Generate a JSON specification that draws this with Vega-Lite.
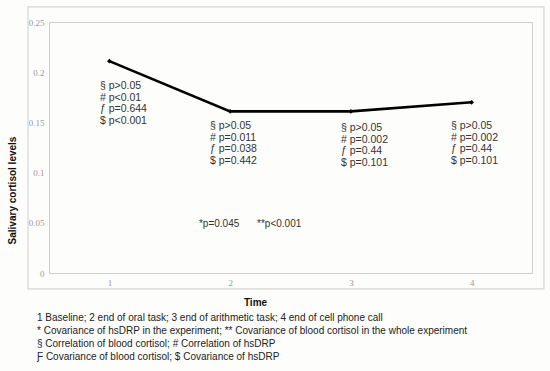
{
  "$schema": "https://vega.github.io/schema/vega-lite/v6.json",
  "autosize": "none",
  "width": 483,
  "height": 251,
  "padding": {"left": 49, "top": 22, "right": 18, "bottom": 98},
  "background": "#fdfdfc",
  "config": {
    "view": {"stroke": "#cfcfcf", "strokeWidth": 1, "fill": "#fdfdfc"},
    "font": "Liberation Sans"
  },
  "title": {
    "text": [
      "1  Baseline; 2 end of oral task; 3 end of arithmetic task; 4 end of cell phone call",
      "*  Covariance of hsDRP in the experiment; ** Covariance of blood cortisol in the whole experiment",
      "§ Correlation of blood cortisol; # Correlation of hsDRP",
      "Ƒ Covariance of blood cortisol; $ Covariance of hsDRP"
    ],
    "orient": "bottom",
    "anchor": "start",
    "frame": "group",
    "dx": -12,
    "offset": 6,
    "font": "Liberation Sans",
    "fontSize": 10,
    "fontWeight": "normal",
    "lineHeight": 13,
    "color": "#222222",
    "baseline": "top"
  },
  "datasets": {
    "series": [
      {"time": 1, "cortisol": 0.211},
      {"time": 2, "cortisol": 0.161},
      {"time": 3, "cortisol": 0.161},
      {"time": 4, "cortisol": 0.17}
    ],
    "notes": [
      {"nx": 0.922, "ny": 0.191, "note": "§ p>0.05\n# p<0.01\nƒ p=0.644\n$ p<0.001"},
      {"nx": 1.833, "ny": 0.151, "note": "§ p>0.05\n# p=0.011\nƒ p=0.038\n$ p=0.442"},
      {"nx": 2.918, "ny": 0.149, "note": "§ p>0.05\n# p=0.002\nƒ p=0.44\n$ p=0.101"},
      {"nx": 3.829, "ny": 0.151, "note": "§ p>0.05\n# p=0.002\nƒ p=0.44\n$ p=0.101"}
    ],
    "stars": [
      {"sx": 1.742, "sy": 0.0488, "star": "*p=0.045"},
      {"sx": 2.223, "sy": 0.0488, "star": "**p<0.001"}
    ],
    "frame": [
      {"fx": 0.326, "fx2": 4.599, "fy": 0.265, "fy2": -0.0159}
    ]
  },
  "layer": [
    {
      "data": {"name": "frame"},
      "mark": {"type": "rect", "fill": null, "stroke": "#d6d6d6", "strokeWidth": 1.2, "clip": false},
      "encoding": {
        "x": {"field": "fx", "type": "quantitative", "scale": {"domain": [0.5, 4.5]}},
        "x2": {"field": "fx2"},
        "y": {"field": "fy", "type": "quantitative", "scale": {"domain": [0, 0.25]}},
        "y2": {"field": "fy2"}
      }
    },
    {
      "data": {"name": "series"},
      "mark": {"type": "line", "color": "#000000", "strokeWidth": 2.6},
      "encoding": {
        "x": {
          "field": "time", "type": "quantitative",
          "scale": {"domain": [0.5, 4.5], "nice": false, "zero": false},
          "axis": {
            "values": [1, 2, 3, 4], "format": "d", "grid": false, "domain": false, "ticks": false,
            "labelFont": "Liberation Serif", "labelFontSize": 9, "labelColor": "#9a9a9a", "labelPadding": 5,
            "title": "Time", "titleFont": "Liberation Sans", "titleFontSize": 10, "titleFontWeight": "bold",
            "titleColor": "#111111", "titleX": 206, "titleY": 29, "titleBaseline": "middle", "titleAlign": "center", "titleAnchor": null
          }
        },
        "y": {
          "field": "cortisol", "type": "quantitative",
          "scale": {"domain": [0, 0.25], "nice": false},
          "axis": {
            "values": [0, 0.05, 0.1, 0.15, 0.2, 0.25], "format": "~g", "grid": false, "domain": false, "ticks": false,
            "labelFont": "Liberation Serif", "labelFontSize": 9, "labelColor": "#9a9a9a", "labelPadding": 5,
            "title": "Salivary cortisol levels", "titleFont": "Liberation Sans", "titleFontSize": 10, "titleFontWeight": "bold",
            "titleColor": "#111111", "titleX": -37, "titleY": 168, "titleAngle": -90, "titleAlign": "center", "titleBaseline": "middle", "titleAnchor": null
          }
        }
      }
    },
    {
      "data": {"name": "series"},
      "mark": {"type": "point", "shape": "diamond", "filled": true, "color": "#000000", "size": 22, "opacity": 1},
      "encoding": {
        "x": {"field": "time", "type": "quantitative"},
        "y": {"field": "cortisol", "type": "quantitative"}
      }
    },
    {
      "data": {"name": "notes"},
      "mark": {"type": "text", "align": "left", "baseline": "top", "lineBreak": "\n", "lineHeight": 11.5, "fontSize": 10.5, "font": "Liberation Sans", "color": "#333333"},
      "encoding": {
        "x": {"field": "nx", "type": "quantitative"},
        "y": {"field": "ny", "type": "quantitative"},
        "text": {"field": "note"}
      }
    },
    {
      "data": {"name": "stars"},
      "mark": {"type": "text", "align": "left", "baseline": "middle", "fontSize": 10, "font": "Liberation Sans", "color": "#333333"},
      "encoding": {
        "x": {"field": "sx", "type": "quantitative"},
        "y": {"field": "sy", "type": "quantitative"},
        "text": {"field": "star"}
      }
    }
  ]
}
